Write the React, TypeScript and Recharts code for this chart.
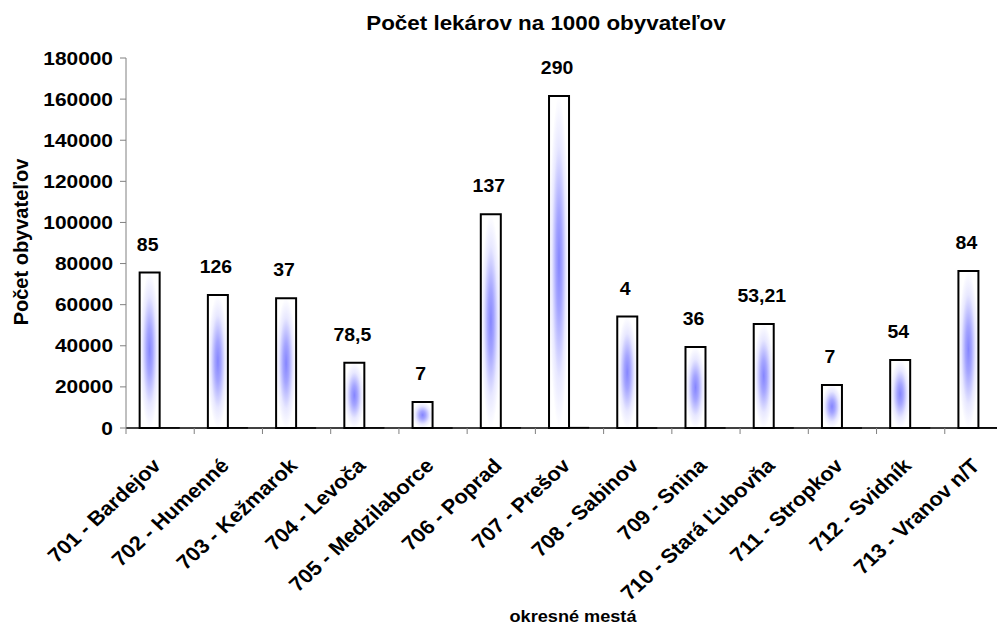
import { Bar, BarChart, LabelList, XAxis, YAxis } from "recharts";

const DISTRICTS = [
  "701 - Bardejov",
  "702 - Humenné",
  "703 - Kežmarok",
  "704 - Levoča",
  "705 - Medzilaborce",
  "706 - Poprad",
  "707 - Prešov",
  "708 - Sabinov",
  "709 - Snina",
  "710 - Stará Ľubovňa",
  "711 - Stropkov",
  "712 - Svidník",
  "713 - Vranov n/T",
];

// population per district
const POPULATION = [
  75600, 64700, 63100, 31800, 12600, 104000, 161500, 54200, 39400, 50600,
  20900, 33100, 76400,
];

// doctors per 1000 – drawn as (near invisible) second series and as labels
const DOCTORS = [85, 126, 37, 78.5, 7, 137, 290, 4, 36, 53.21, 7, 54, 84];

const Y_TICKS = [0, 20000, 40000, 60000, 80000, 100000, 120000, 140000, 160000, 180000];

const FONT = '"Liberation Sans", Arial, sans-serif';

const data = DISTRICTS.map((name, i) => ({
  name,
  population: POPULATION[i],
  doctors: DOCTORS[i],
}));

const formatComma = (v: number) => String(v).replace(".", ",");

function YTick(props: any) {
  const { x, y, payload } = props;
  return (
    <text
      transform={`translate(${x},${y}) scale(1.1,1)`}
      textAnchor="end"
      dy={6.5}
      fontFamily={FONT}
      fontWeight="bold"
      fontSize={19}
      fill="#000"
    >
      {payload.value}
    </text>
  );
}

function XTick(props: any) {
  const { x, y, payload, index, visibleTicksCount } = props;
  const half = payload.offset || 887 / 13 / 2;
  const last = index === visibleTicksCount - 1;
  return (
    <g>
      <line x1={x - half} x2={x - half} y1={y} y2={y + 6} stroke="#808080" />
      {last && <line x1={x + half} x2={x + half} y1={y} y2={y + 6} stroke="#808080" />}
      <text
        transform={`translate(${x + 2},${y + 39}) scale(1.09,1) rotate(-45)`}
        textAnchor="end"
        fontFamily={FONT}
        fontWeight="bold"
        fontSize={20}
        fill="#000"
      >
        {payload.value}
      </text>
    </g>
  );
}

function DoctorLabel(props: any) {
  const { x, y, width, index } = props;
  return (
    <text
      transform={`translate(${x + width / 2 - 2},${y - 22}) scale(1.08,1)`}
      textAnchor="middle"
      fontFamily={FONT}
      fontWeight="bold"
      fontSize={18}
      fill="#000"
    >
      {formatComma(DOCTORS[index])}
    </text>
  );
}

export default function App() {
  return (
    <div
      style={{
        margin: -8,
        width: 1005,
        height: 630,
        overflow: "hidden",
        position: "relative",
        background: "#fff",
      }}
    >
      <BarChart
        width={1020}
        height={630}
        data={data}
        margin={{ top: 58, right: 7, bottom: 0, left: 0 }}
        barCategoryGap="20%"
        barGap={0}
      >
        <defs>
          <radialGradient id="barFill" cx="50%" cy="50%" r="50%">
            <stop offset="0%" stopColor="#8585ff" />
            <stop offset="30%" stopColor="#a5a5ff" />
            <stop offset="70%" stopColor="#e8e8ff" />
            <stop offset="100%" stopColor="#ffffff" />
          </radialGradient>
        </defs>
        <XAxis
          dataKey="name"
          interval={0}
          height={202}
          tickSize={0}
          tickMargin={0}
          tickLine={false}
          axisLine={{ stroke: "#000", strokeWidth: 1.5 }}
          tick={<XTick />}
        />
        <YAxis
          width={126}
          domain={[0, 180000]}
          ticks={Y_TICKS}
          interval={0}
          tickSize={6}
          tickMargin={7}
          axisLine={{ stroke: "#808080" }}
          tickLine={{ stroke: "#808080" }}
          tick={<YTick />}
        />
        <Bar
          dataKey="population"
          fill="url(#barFill)"
          stroke="#000"
          strokeWidth={2}
          isAnimationActive={false}
        >
          <LabelList dataKey="doctors" content={<DoctorLabel />} />
        </Bar>
        <Bar
          dataKey="doctors"
          fill="url(#barFill)"
          stroke="#000"
          strokeWidth={1}
          isAnimationActive={false}
        />
      </BarChart>
      <svg
        width={1005}
        height={630}
        style={{ position: "absolute", left: 0, top: 0, pointerEvents: "none" }}
      >
        <text
          transform="translate(546,30) scale(1.12,1)"
          textAnchor="middle"
          fontFamily={FONT}
          fontWeight="bold"
          fontSize={20}
        >
          Počet lekárov na 1000 obyvateľov
        </text>
        <text
          transform="translate(28,242) rotate(-90)"
          textAnchor="middle"
          fontFamily={FONT}
          fontWeight="bold"
          fontSize={20}
        >
          Počet obyvateľov
        </text>
        <text
          transform="translate(573,622) scale(1.1,1)"
          textAnchor="middle"
          fontFamily={FONT}
          fontWeight="bold"
          fontSize={16.5}
        >
          okresné mestá
        </text>
      </svg>
    </div>
  );
}
